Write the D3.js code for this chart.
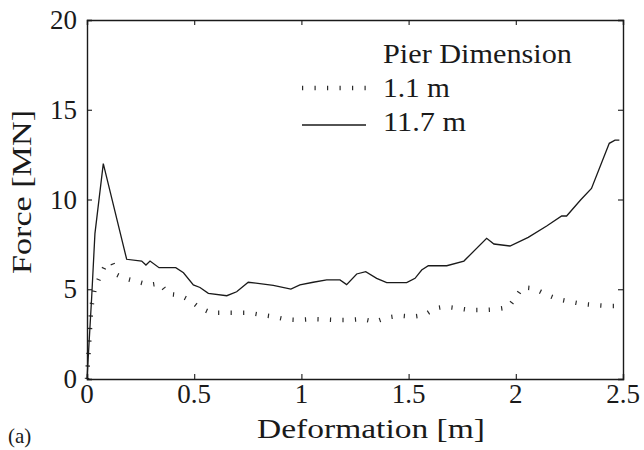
<!DOCTYPE html>
<html>
<head>
<meta charset="utf-8">
<script src="https://cdn.jsdelivr.net/npm/d3@7"></script>
<style>
  html, body { margin: 0; padding: 0; background: #fff; }
  svg { display: block; }
  text { font-family: "Liberation Serif", "Times New Roman", serif; fill: #1a1a1a; }
</style>
</head>
<body>
<svg id="chart" width="644" height="450"></svg>
<script>
// Force–deformation curves for two pier dimensions
const seriesNames = ["1.1 m", "11.7 m"];

const deform11 = [0, 0.01, 0.02, 0.037, 0.06, 0.084, 0.117, 0.14, 0.172, 0.235,
  0.29, 0.34, 0.379, 0.429, 0.477, 0.522, 0.577, 0.636, 0.695, 0.756,
  0.813, 0.872, 0.928, 0.989, 1.048, 1.107, 1.165, 1.227, 1.284, 1.343,
  1.402, 1.46, 1.517, 1.576, 1.623, 1.67, 1.729, 1.787, 1.846, 1.906,
  1.965, 1.999, 2.032, 2.085, 2.139, 2.193, 2.253, 2.31, 2.369, 2.428, 2.477];
const force11 = [0, 2.0, 4.0, 5.07, 5.7, 6.3, 6.5, 5.8, 5.62, 5.42,
  5.24, 5.33, 4.74, 4.68, 4.4, 3.99, 3.69, 3.69, 3.69, 3.69,
  3.57, 3.47, 3.32, 3.29, 3.34, 3.32, 3.29, 3.29, 3.34, 3.19,
  3.43, 3.53, 3.47, 3.57, 3.94, 4.03, 3.94, 3.84, 3.84, 3.88,
  3.99, 4.55, 5.11, 5.05, 4.72, 4.46, 4.31, 4.18, 4.12, 4.07, 4.07];

const deform117 = [0, 0.022, 0.037, 0.076, 0.185, 0.255, 0.275, 0.294, 0.336, 0.414,
  0.45, 0.496, 0.527, 0.566, 0.652, 0.698, 0.752, 0.869, 0.951, 0.993,
  1.055, 1.118, 1.18, 1.211, 1.258, 1.3, 1.351, 1.398, 1.491, 1.53,
  1.561, 1.592, 1.678, 1.758, 1.864, 1.898, 1.973, 2.058, 2.144, 2.214,
  2.237, 2.302, 2.353, 2.436, 2.463, 2.483];
const force117 = [0, 4.6, 8.1, 12.0, 6.67, 6.57, 6.35, 6.57, 6.2, 6.2,
  5.92, 5.24, 5.1, 4.77, 4.64, 4.86, 5.39, 5.22, 5.01, 5.24,
  5.39, 5.52, 5.52, 5.26, 5.85, 5.98, 5.61, 5.37, 5.37, 5.61,
  6.07, 6.31, 6.31, 6.57, 7.84, 7.52, 7.41, 7.89, 8.52, 9.08,
  9.08, 9.97, 10.62, 13.13, 13.31, 13.31];

const xTicks = [0, 0.5, 1, 1.5, 2, 2.5];
const yTicks = [0, 5, 10, 15, 20];
const xTickLabels = ["0", "0.5", "1", "1.5", "2", "2.5"];
const yTickLabels = ["0", "5", "10", "15", "20"];

const svg = d3.select("#chart");
const W = 644, H = 450;
const margin = { left: 87, right: 21, top: 20, bottom: 71 };
const pw = W - margin.left - margin.right;
const ph = H - margin.top - margin.bottom;

const x = d3.scaleLinear().domain([0, 2.5]).range([margin.left, margin.left + pw]);
const y = d3.scaleLinear().domain([0, 20]).range([margin.top + ph, margin.top]);

const ink = "#1a1a1a";
const fs = 27;

// widen glyph runs to a roman text face's proportions
const widen = (sel, w) => sel.attr("textLength", w).attr("lengthAdjust", "spacingAndGlyphs");

// Curves
const line = d3.line().x(d => x(d[0])).y(d => y(d[1]));
const dotted = d3.zip(deform11, force11);
const solid = d3.zip(deform117, force117);

// dotted style: thin dashes drawn with a wide stroke give short cross-marks
const dotStyle = sel => sel
  .attr("fill", "none").attr("stroke", "#2a2a2a")
  .attr("stroke-width", 4.5).attr("stroke-dasharray", "1.2,11.3");

svg.append("path").datum(dotted).attr("d", line).call(dotStyle);
svg.append("path").datum(solid).attr("d", line)
  .attr("fill", "none").attr("stroke", ink).attr("stroke-width", 1.3)
  .attr("stroke-linejoin", "miter");

// Axes box with inward ticks on all sides
const tickLen = 5;
const axisG = svg.append("g");
const axB = d3.axisBottom(x).tickValues(xTicks).tickSize(-tickLen).tickFormat("");
const axT = d3.axisTop(x).tickValues(xTicks).tickSize(-tickLen).tickFormat("");
const axL = d3.axisLeft(y).tickValues(yTicks).tickSize(-tickLen).tickFormat("");
const axR = d3.axisRight(y).tickValues(yTicks).tickSize(-tickLen).tickFormat("");
axisG.append("g").attr("transform", `translate(0,${y(0)})`).call(axB);
axisG.append("g").attr("transform", `translate(0,${y(20)})`).call(axT);
axisG.append("g").attr("transform", `translate(${x(0)},0)`).call(axL);
axisG.append("g").attr("transform", `translate(${x(2.5)},0)`).call(axR);
axisG.selectAll(".domain").attr("stroke", ink).attr("stroke-width", 1.4);
axisG.selectAll(".tick line").attr("stroke", ink).attr("stroke-width", 1.1);

// Tick labels
svg.append("g").selectAll("text").data(xTicks).join("text")
  .attr("x", d => x(d)).attr("y", y(0) + 24)
  .attr("text-anchor", "middle").attr("font-size", fs)
  .text((d, i) => xTickLabels[i]);
svg.append("g").selectAll("text").data(yTicks).join("text")
  .attr("x", x(0) - 10).attr("y", d => y(d) + 9)
  .attr("text-anchor", "end").attr("font-size", fs)
  .text((d, i) => yTickLabels[i]);

// Axis titles
svg.append("text").attr("x", 371).attr("y", 438)
  .attr("text-anchor", "middle").attr("font-size", fs)
  .text("Deformation [m]").call(widen, 228);
svg.append("text").attr("transform", `translate(31,${192}) rotate(-90)`)
  .attr("text-anchor", "middle").attr("font-size", fs)
  .text("Force [MN]").call(widen, 164);
svg.append("text").attr("x", 8).attr("y", 443)
  .attr("font-size", 21).text("(a)");

// Legend
const lg = svg.append("g");
lg.append("text").attr("x", 383).attr("y", 63).attr("font-size", fs)
  .text("Pier Dimension").call(widen, 189);
lg.append("text").attr("x", 383).attr("y", 97).attr("font-size", fs)
  .text(seriesNames[0]).call(widen, 67);
lg.append("text").attr("x", 383).attr("y", 131).attr("font-size", fs)
  .text(seriesNames[1]).call(widen, 83);
lg.append("path").datum([[302, 88], [366, 88]]).attr("d", d3.line()).call(dotStyle);
lg.append("path").datum([[302, 125], [366, 125]]).attr("d", d3.line())
  .attr("fill", "none").attr("stroke", ink).attr("stroke-width", 1.3);
</script>
</body>
</html>
